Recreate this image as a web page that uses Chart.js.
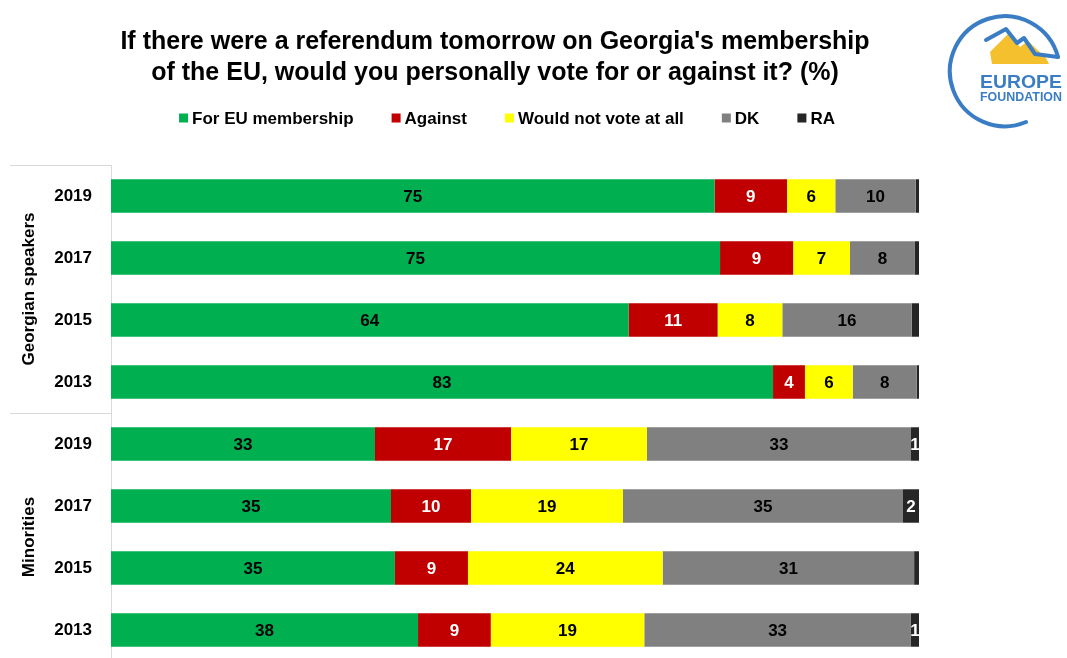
<!DOCTYPE html>
<html>
<head>
<meta charset="utf-8">
<title>EU referendum - Georgia</title>
<script src="https://cdn.jsdelivr.net/npm/chart.js@4.4.1/dist/chart.umd.min.js"></script>
<style>
  html, body { margin: 0; padding: 0; background: #fff; overflow: hidden; }
  #wrap { position: relative; width: 1067px; height: 661px; }
  #logo { position: absolute; left: 945px; top: 0; }
</style>
</head>
<body>
<div id="wrap">
  <canvas id="chart" width="1067" height="661"></canvas>
  <svg id="logo" width="122" height="135" viewBox="945 0 122 135">
    <polygon points="990,52 1009,33 1020,47 1028,41 1046,58 1049,64 992,64" fill="#f5c02e"/>
    <path d="M1058 57 A55 55 0 1 0 1026 122" fill="none" stroke="#3b7dc4" stroke-width="4" stroke-linecap="round"/>
    <polyline points="986,40 1006,29 1017,43 1024,38 1035,54 1058,57" fill="none" stroke="#3b7dc4" stroke-width="4" stroke-linejoin="round" stroke-linecap="round"/>
    <text x="980" y="88" textLength="82" lengthAdjust="spacingAndGlyphs" font-family="Liberation Sans" font-weight="bold" font-size="19" fill="#3b7dc4">EUROPE</text>
    <text x="980" y="101" textLength="82" lengthAdjust="spacingAndGlyphs" font-family="Liberation Sans" font-weight="bold" font-size="12" fill="#3b7dc4">FOUNDATION</text>
  </svg>
</div>
<script>
// values as printed on the bars (%)
const years   = ['2019', '2017', '2015', '2013', '2019', '2017', '2015', '2013'];
const groups  = ['Georgian speakers', 'Minorities'];
const forEU   = [75, 75, 64, 83, 33, 35, 35, 38];
const against = [9, 9, 11, 4, 17, 10, 9, 9];
const noVote  = [6, 7, 8, 6, 17, 19, 24, 19];
const dk      = [10, 8, 16, 8, 33, 35, 31, 33];
const ra      = [0.4, 0.5, 0.9, 0.3, 1, 2, 0.6, 1]; // under 1 = no label

const FONT = '"Liberation Sans", Arial, sans-serif';

const series = [
  { label: 'For EU membership', values: forEU, color: '#00b050', text: '#000' },
  { label: 'Against', values: against, color: '#c00000', text: '#fff' },
  { label: 'Would not vote at all', values: noVote, color: '#ffff00', text: '#000' },
  { label: 'DK', values: dk, color: '#808080', text: '#000' },
  { label: 'RA', values: ra, color: '#262626', text: '#fff' }
];

// 100% stacked like excel
const totals = years.map((y, i) => series.reduce((s, se) => s + se.values[i], 0));

const datasets = series.map(se => ({
  label: se.label,
  data: se.values.map((v, i) => v / totals[i] * 100),
  raw: se.values,
  labelColor: se.text,
  backgroundColor: se.color,
  borderWidth: 0,
  barPercentage: 0.9,
  categoryPercentage: 0.6
}));

const barLabels = {
  id: 'barLabels',
  afterDatasetsDraw(chart) {
    const ctx = chart.ctx;
    ctx.save();
    ctx.font = 'bold 17px ' + FONT;
    ctx.textAlign = 'center';
    ctx.textBaseline = 'middle';
    chart.data.datasets.forEach((ds, di) => {
      chart.getDatasetMeta(di).data.forEach((bar, i) => {
        const v = ds.raw[i];
        if (v < 1) return;
        ctx.fillStyle = ds.labelColor;
        ctx.fillText(String(v), (bar.x + bar.base) / 2, bar.y + 1);
      });
    });
    ctx.restore();
  }
};

// legend row + group labels on the left
const extras = {
  id: 'extras',
  afterDraw(chart) {
    const ctx = chart.ctx;
    const area = chart.chartArea;
    const yScale = chart.scales.y;
    ctx.save();

    // legend
    ctx.font = 'bold 17px ' + FONT;
    ctx.textBaseline = 'middle';
    ctx.textAlign = 'left';
    const box = 9, gap = 4, itemGap = 38;
    const items = chart.data.datasets.map(ds => ({
      text: ds.label, color: ds.backgroundColor, w: ctx.measureText(ds.label).width
    }));
    const total = items.reduce((s, it) => s + box + gap + it.w, 0) + itemGap * (items.length - 1);
    let x = 507 - total / 2;
    const ly = 118;
    items.forEach(it => {
      ctx.fillStyle = it.color;
      ctx.fillRect(x, ly - box / 2, box, box);
      ctx.fillStyle = '#000';
      ctx.fillText(it.text, x + box + gap, ly + 1);
      x += box + gap + it.w + itemGap;
    });

    // category group lines
    const sepY = (yScale.getPixelForValue(3) + yScale.getPixelForValue(4)) / 2;
    ctx.strokeStyle = '#d9d9d9';
    ctx.lineWidth = 1;
    ctx.beginPath();
    ctx.moveTo(10, area.top + 0.5); ctx.lineTo(area.left, area.top + 0.5);
    ctx.moveTo(10, Math.round(sepY) + 0.5); ctx.lineTo(area.left, Math.round(sepY) + 0.5);
    ctx.stroke();

    // group names, rotated
    ctx.fillStyle = '#000';
    ctx.textAlign = 'center';
    const spans = [[area.top, sepY], [sepY, area.bottom]];
    groups.forEach((g, gi) => {
      ctx.save();
      ctx.translate(29, (spans[gi][0] + spans[gi][1]) / 2);
      ctx.rotate(-Math.PI / 2);
      ctx.fillText(g, 0, 0);
      ctx.restore();
    });
    ctx.restore();
  }
};

new Chart(document.getElementById('chart'), {
  type: 'bar',
  data: { labels: years, datasets: datasets },
  options: {
    indexAxis: 'y',
    responsive: false,
    animation: false,
    layout: { padding: { left: 0, right: 77, top: 0, bottom: 0 } },
    scales: {
      x: { stacked: true, min: 0, max: 100, display: false },
      y: {
        stacked: true,
        // fixed width, and no extra room above/below for the tick labels
        afterFit: s => { s.width = 111; s.paddingTop = 0; s.paddingBottom = 0; },
        grid: { display: false, drawTicks: false },
        border: { display: true, color: '#d9d9d9', width: 1 },
        ticks: { color: '#000', padding: 19, font: { family: FONT, size: 17, weight: 'bold' } }
      },
      y2: {
        type: 'category',
        position: 'right',
        afterFit: s => { s.width = 71; s.paddingTop = 0; s.paddingBottom = 0; },
        grid: { display: false, drawTicks: false },
        border: { display: false },
        ticks: { display: false }
      }
    },
    plugins: {
      legend: { display: false },
      tooltip: { enabled: false },
      title: {
        display: true,
        text: ["If there were a referendum tomorrow on Georgia's membership",
               'of the EU, would you personally vote for or against it? (%)'],
        color: '#000',
        font: { family: FONT, size: 25, weight: 'bold', lineHeight: 1.24 },
        padding: { top: 27, bottom: 76 }
      }
    }
  },
  plugins: [barLabels, extras]
});
</script>
</body>
</html>
